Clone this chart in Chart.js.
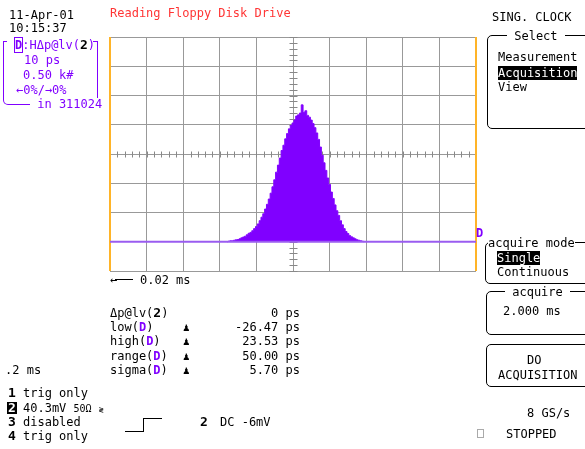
<!DOCTYPE html>
<html>
<head>
<meta charset="utf-8">
<script src="https://cdn.jsdelivr.net/npm/chart.js@4/dist/chart.umd.min.js"></script>
<style>
  html, body { margin:0; padding:0; background:#fff; }
  #wrap { position:relative; width:585px; height:449px; overflow:hidden; background:#fff; }
  canvas { position:absolute; left:0; top:0; }
  .t { position:absolute; font-family:"DejaVu Sans Mono", monospace; font-size:12px; line-height:12px; white-space:pre; color:#000; }
  .p { color:#8000ff; }
  .b { font-weight:bold; }
  .dm { color:#8000ff; font-weight:bold; }
  .dbox { color:#8000ff; font-weight:bold; outline:1px solid #8000ff; }
  .inv { background:#000; color:#fff; }
  .box { position:absolute; border:1px solid #000; border-radius:5px; }
  .pawn { font-size:11px; }
</style>
</head>
<body>
<div id="wrap">
<canvas id="c" width="585" height="449"></canvas>
</div>
<script>
// ---- data ----
const binCentersPs = [-18,-17.5,-17,-16.5,-16,-15.5,-15,-14.5,-14,-13.5,-13,-12.5,-12,-11.5,-11,-10.5,-10,-9.5,-9,-8.5,-8,-7.5,-7,-6.5,-6,-5.5,-5,-4.5,-4,-3.5,-3,-2.5,-2,-1.5,-1,-0.5,0,0.5,1,1.5,2,2.5,3,3.5,4,4.5,5,5.5,6,6.5,7,7.5,8,8.5,9,9.5,10,10.5,11,11.5,12,12.5,13,13.5,14,14.5,15,15.5,16,16.5,17,17.5,18,18.5,19,19.5];
const histCounts = [0,9,17,17,26,34,38,51,68,82,95,120,145,160,190,225,260,305,360,420,480,560,640,730,830,940,1060,1190,1310,1430,1560,1650,1760,1850,1930,1990,2030,2080,2150,2170,2200,2340,2210,2240,2160,2130,2080,2020,1950,1860,1750,1620,1480,1350,1220,1090,980,850,740,630,530,450,360,290,225,175,140,105,85,68,51,34,26,17,9,0];
const xRangePs = [-50, 50];        // 10 ps / div, 10 divisions
const yRangeCounts = [-500, 3500]; // 0.50 k# / div, 8 divisions
const xStepPs = 10;
const yStepCounts = 500;
const titleText = "Reading Floppy Disk Drive";
const measLabels = ["low", "high", "range", "sigma"];
const measValues = ["-26.47 ps", "23.53 ps", "50.00 ps", "5.70 ps"];

const histPoints = binCentersPs.map((x, i) => ({ x: x, y: histCounts[i] }));
const baseline = [{ x: xRangePs[0], y: 0 }, { x: xRangePs[1], y: 0 }];

const scopePlugin = {
  id: 'scope',
  beforeDatasetsDraw(chart) {
    const { ctx, chartArea: a, scales: { x, y } } = chart;
    ctx.save();
    ctx.strokeStyle = '#888';
    ctx.lineWidth = 1;
    const cy = Math.round(y.getPixelForValue((yRangeCounts[0] + yRangeCounts[1]) / 2)) + 0.5;
    const cx = Math.round(x.getPixelForValue(0)) + 0.5;
    ctx.beginPath();
    for (let v = xRangePs[0]; v <= xRangePs[1]; v += xStepPs / 5) {
      const px = Math.round(x.getPixelForValue(v)) + 0.5;
      ctx.moveTo(px, cy - 3); ctx.lineTo(px, cy + 3);
    }
    for (let v = yRangeCounts[0]; v <= yRangeCounts[1]; v += yStepCounts / 5) {
      const py = Math.round(y.getPixelForValue(v)) + 0.5;
      ctx.moveTo(cx - 4, py); ctx.lineTo(cx + 4, py);
    }
    ctx.stroke();
    ctx.strokeStyle = '#ffb428';
    ctx.lineWidth = 2;
    ctx.beginPath();
    ctx.moveTo(a.left, a.top); ctx.lineTo(a.left, a.bottom);
    ctx.moveTo(a.right, a.top); ctx.lineTo(a.right, a.bottom);
    ctx.stroke();
    ctx.restore();
  }
};

new Chart(document.getElementById('c'), {
  type: 'line',
  data: {
    datasets: [
      { data: baseline, borderColor: '#9a5cf0', borderWidth: 2, pointRadius: 0, fill: false },
      { data: histPoints, borderColor: '#8000ff', backgroundColor: '#8000ff', borderWidth: 1, pointRadius: 0, stepped: 'middle', fill: { value: 0 } }
    ]
  },
  options: {
    responsive: false,
    devicePixelRatio: 1,
    animation: false,
    layout: { padding: { left: 110, right: 109, top: 37, bottom: 178 } },
    plugins: { legend: { display: false }, tooltip: { enabled: false } },
    scales: {
      x: { type: 'linear', min: xRangePs[0], max: xRangePs[1],
           ticks: { display: false, stepSize: xStepPs },
           grid: { color: '#999', drawTicks: false, tickLength: 0 }, border: { display: false } },
      y: { type: 'linear', min: yRangeCounts[0], max: yRangeCounts[1],
           ticks: { display: false, stepSize: yStepCounts },
           grid: { color: '#999', drawTicks: false, tickLength: 0 }, border: { display: false } }
    }
  },
  plugins: [scopePlugin]
});

// ---- text overlay ----
const W = document.getElementById('wrap');
function T(x, y, html, cls, extra) {
  const d = document.createElement('div');
  d.className = 't' + (cls ? ' ' + cls : '');
  d.style.left = x + 'px'; d.style.top = y + 'px';
  d.innerHTML = html;
  if (extra) Object.assign(d.style, extra);
  W.appendChild(d); return d;
}
function BOX(x, y, w, h, extra) {
  const d = document.createElement('div');
  d.className = 'box';
  d.style.left = x + 'px'; d.style.top = y + 'px';
  d.style.width = w + 'px'; d.style.height = h + 'px';
  if (extra) Object.assign(d.style, extra);
  W.appendChild(d); return d;
}
function LINE(x, y, w, h, color) {
  const d = document.createElement('div');
  d.style.position = 'absolute';
  d.style.left = x + 'px'; d.style.top = y + 'px';
  d.style.width = w + 'px'; d.style.height = h + 'px';
  d.style.background = color || '#000';
  W.appendChild(d); return d;
}

T(9, 8.5, '11-Apr-01');
T(9, 21.5, '10:15:37');
// purple info box
BOX(3, 41, 93, 63, { border: '1px solid #8000ff', borderTop: 'none', borderRadius: '0 0 5px 5px' });
LINE(3, 41, 4, 1, '#8000ff'); LINE(93, 41, 4, 1, '#8000ff');
T(15, 38.5, '<span class="dbox">D</span>:HΔp@lv(<span class="b" style="color:#000;font-size:13px">2</span>)', 'p');
T(24, 53.5, '10 ps', 'p');
T(23, 68.5, '0.50 k#', 'p');
T(16, 83.5, '←0%/→0%', 'p');
T(30, 97.5, ' in 311024', 'p', { background: '#fff' });

T(110, 6.5, titleText, '', { color: '#ff3535' });

// right panel
T(492, 10.5, 'SING. CLOCK');
BOX(487, 35, 120, 92);
T(507, 29.5, ' Select ', '', { background: '#fff' });
T(498, 50.5, 'Measurement');
T(498, 65.5, 'Acquisition', 'inv', { padding: '1px 0' });
T(498, 80.5, 'View');

BOX(485, 242, 120, 40);
T(488, 236.5, 'acquire mode', '', { background: '#fff' });
T(497, 250.5, 'Single', 'inv', { padding: '1px 0' });
T(497, 265.5, 'Continuous');

BOX(486, 291, 120, 42);
T(505, 285.5, ' acquire ', '', { background: '#fff' });
T(503, 304.5, '2.000 ms');

BOX(486, 344, 120, 41);
T(527, 353.5, 'DO');
T(498, 368.5, 'ACQUISITION');

T(527, 406.5, '8 GS/s');
BOX(477, 429, 5, 7, { borderRadius: '0', borderColor: '#aaa' });
T(506, 427.5, 'STOPPED');

// trace marker
T(476, 226.5, 'D', 'dm');

// time scale
T(110, 273.5, '←');
LINE(115, 279, 18, 1, '#000');
T(140, 273.5, '0.02 ms');

// measurement table
T(110, 306.5, 'Δp@lv(<span class="b" style="font-size:13px">2</span>)');
T(250, 306.5, '0 ps', '', { width: '50px', textAlign: 'right' });
measLabels.forEach((lab, i) => {
  const y = 320.5 + i * 14.5;
  T(110, y, lab + '(<span class="dm">D</span>)');
  T(183, y, '♟', 'pawn', { top: (y + 1) + 'px' });
  T(200, y, measValues[i], '', { width: '100px', textAlign: 'right' });
});

// bottom left
T(5, 363.5, '.2 ms');
T(8, 386.5, '1', 'b', { fontSize: '13px' });
T(23, 386.5, 'trig only');
T(7, 401.5, '2', 'b inv', { fontSize: '13px', padding: '0 1px' });
T(23, 401.5, '40.3mV <span style="font-size:10px">50Ω</span> <span style="font-size:8px">≷</span>');
T(8, 415.5, '3', 'b', { fontSize: '13px' });
T(23, 415.5, 'disabled');
T(8, 430, '4', 'b', { fontSize: '13px' });
T(23, 430, 'trig only');

// step symbol
LINE(125, 431, 18, 1, '#000');
LINE(143, 418, 1, 14, '#000');
LINE(143, 418, 19, 1, '#000');
T(200, 415.5, '2', 'b', { fontSize: '13px' });
T(220, 415.5, 'DC -6mV');
</script>
</body>
</html>
